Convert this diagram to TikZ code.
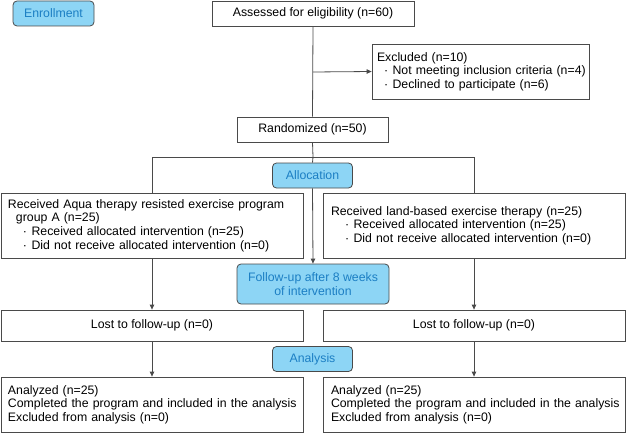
\documentclass[tikz,border=0pt]{standalone}
\usepackage{fontspec}
\setmainfont{Liberation Sans}
\usetikzlibrary{arrows.meta}
\definecolor{boxline}{HTML}{4A4A4A}
\definecolor{stagefill}{HTML}{8DD5F5}
\definecolor{stagetext}{HTML}{1C7FC4}
\newcommand\bul[2]{\mbox{\hspace*{#1}\textperiodcentered\hspace{4.5pt}#2}}

\begin{document}
\begin{tikzpicture}[x=1pt,y=-1pt,
    font=\fontsize{12.3}{13.6}\selectfont,
    box/.style={draw=boxline,line width=0.8pt,inner ysep=0pt,align=left},
    stage/.style={draw=boxline,fill=stagefill,text=stagetext,rounded corners=4pt,
      line width=0.8pt,align=center,inner sep=0pt,minimum width=80pt,minimum height=25pt},
    link/.style={draw=boxline,line width=0.8pt},
    arr/.style={link,-{Triangle[length=5pt,width=4.5pt]}}]

  \useasboundingbox (0,0) rectangle (626,433);

  % stage labels
  \node[stage,minimum width=81pt] (enroll) at (53.5,13.5) {Enrollment};
  \node[stage] (alloc) at (312.5,175.5) {Allocation};
  \node[stage,minimum width=152pt,minimum height=40pt] (follow) at (313,284)
    {Follow-up after 8 weeks\\of intervention};
  \node[stage] (analysis) at (312.5,359) {Analysis};

  % enrollment
  \node[box,align=center,minimum width=202pt,minimum height=25pt] (assess) at (313,13.5)
    {Assessed for eligibility (n=60)};
  \node[box,inner xsep=5pt,text width=207pt,minimum height=55pt] (excl) at (480.5,71.5)
    {Excluded (n=10)\\
     \bul{7pt}{Not meeting inclusion criteria (n=4)}\\
     \bul{7pt}{Declined to participate (n=6)}};
  \node[box,align=center,minimum width=151pt,minimum height=25pt] (rand) at (312.5,129.5)
    {Randomized (n=50)};

  % two arms
  \node[box,inner xsep=7pt,text width=288pt,minimum height=65pt] (grpA) at (152,225.5)
    {\mbox{Received Aqua therapy resisted exercise program}\\
     \hspace*{8pt}group A (n=25)\\
     \bul{15pt}{Received allocated intervention (n=25)}\\
     \bul{15pt}{Did not receive allocated intervention (n=0)}};
  \node[box,inner xsep=8pt,text width=286pt,minimum height=65pt] (grpB) at (474,225.5)
    {Received land-based exercise therapy (n=25)\\
     \bul{14pt}{Received allocated intervention (n=25)}\\
     \bul{14pt}{Did not receive allocated intervention (n=0)}};

  \node[box,align=center,minimum width=302pt,minimum height=31pt] (lostA) at (152,325.5)
    {Lost to follow-up (n=0)};
  \node[box,align=center,minimum width=302pt,minimum height=31pt] (lostB) at (474,325.5)
    {Lost to follow-up (n=0)};

  \node[box,inner xsep=7pt,text width=288pt,minimum height=55pt] (anA) at (152,404.5)
    {Analyzed (n=25)\\
     \mbox{Completed the program and included in the analysis}\\
     Excluded from analysis (n=0)};
  \node[box,inner xsep=8pt,text width=286pt,minimum height=55pt] (anB) at (474,404.5)
    {Analyzed (n=25)\\
     \mbox{Completed the program and included in the analysis}\\
     Excluded from analysis (n=0)};

  % connectors
  \coordinate (split) at (313,72);
  \coordinate (junc) at (313,157);
  \coordinate (juncA) at (152,157);
  \coordinate (juncB) at (474,157);

  \draw[link] (assess.south) -- (rand.north);
  \draw[arr] (split) -- (excl.west);
  \draw[link] (rand.south) -- (junc);
  \draw[link] (juncA) -- (juncB);
  \draw[link] (juncA) -- (grpA.north);
  \draw[link] (juncB) -- (grpB.north);
  \draw[link] (junc) -- (alloc.north);
  \draw[arr] (alloc.south) -- (follow.north);
  \draw[arr] (grpA.south) -- (lostA.north);
  \draw[arr] (grpB.south) -- (lostB.north);
  \draw[arr] (lostA.south) -- (anA.north);
  \draw[arr] (lostB.south) -- (anB.north);

\end{tikzpicture}
\end{document}
